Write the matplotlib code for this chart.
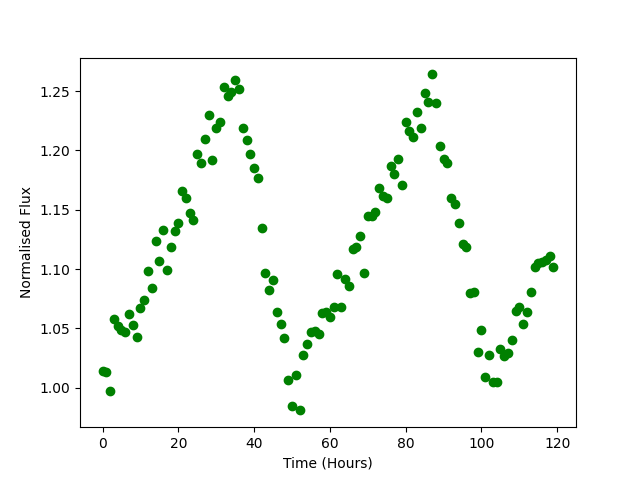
import matplotlib
matplotlib.use("Agg")
import matplotlib.pyplot as plt
import numpy as np

hours = list(range(120))
flux = [
    1.014, 1.013, 0.997, 1.058, 1.052, 1.049, 1.047, 1.062, 1.053, 1.043,
    1.067, 1.074, 1.098, 1.084, 1.124, 1.107, 1.133, 1.099, 1.119, 1.132,
    1.139, 1.166, 1.160, 1.147, 1.141, 1.197, 1.189, 1.210, 1.230, 1.192,
    1.219, 1.224, 1.253, 1.246, 1.249, 1.259, 1.252, 1.219, 1.209, 1.197,
    1.185, 1.177, 1.135, 1.097, 1.082, 1.091, 1.064, 1.054, 1.042, 1.007,
    0.985, 1.011, 0.981, 1.028, 1.037, 1.047, 1.048, 1.045, 1.063, 1.064,
    1.060, 1.068, 1.096, 1.068, 1.092, 1.086, 1.117, 1.119, 1.128, 1.097,
    1.145, 1.145, 1.148, 1.168, 1.162, 1.160, 1.187, 1.180, 1.193, 1.171,
    1.224, 1.216, 1.211, 1.232, 1.219, 1.248, 1.241, 1.264, 1.240, 1.204,
    1.193, 1.189, 1.160, 1.155, 1.139, 1.121, 1.119, 1.080, 1.081, 1.030,
    1.049, 1.009, 1.028, 1.005, 1.005, 1.033, 1.027, 1.029, 1.040, 1.065,
    1.068, 1.054, 1.064, 1.081, 1.102, 1.105, 1.106, 1.108, 1.111, 1.102,
]

fig, ax = plt.subplots(figsize=(6.4, 4.8), dpi=100)
ax.plot(hours, flux, 'go')
ax.set_xlabel("Time (Hours)")
ax.set_ylabel("Normalised Flux")
fig.savefig("out.png")
